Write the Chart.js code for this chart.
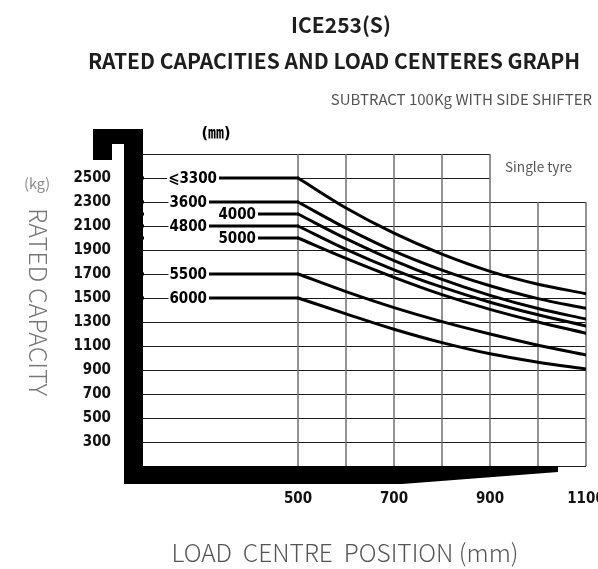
<!DOCTYPE html>
<html><head><meta charset="utf-8">
<script src="https://cdn.jsdelivr.net/npm/chart.js@4.4.0/dist/chart.umd.min.js"></script>
<style>html,body{margin:0;padding:0;background:#fff;overflow:hidden}canvas{display:block}</style>
</head><body>
<canvas id="c" width="598" height="569"></canvas>
<script>
// ---- data ----
const mastHeights = ['\u2A7D3300', '3600', '4000', '4800', '5000', '5500', '6000'];
const loadCentres = [500, 600, 700, 800, 900, 1000, 1100];
const cap3300 = [2500, 2250, 2040, 1865, 1722, 1615, 1536];
const cap3600 = [2300, 2082, 1890, 1732, 1602, 1495, 1414];
const cap4000 = [2200, 1995, 1812, 1655, 1522, 1412, 1325];
const cap4800 = [2100, 1905, 1735, 1590, 1465, 1360, 1267];
const cap5000 = [2000, 1830, 1672, 1528, 1405, 1300, 1206];
const cap5500 = [1700, 1553, 1420, 1303, 1200, 1107, 1025];
const cap6000 = [1500, 1368, 1240, 1128, 1035, 965, 908];
const yTickLabels = [300, 500, 700, 900, 1100, 1300, 1500, 1700, 1900, 2100, 2300, 2500];
const xTickLabels = [500, 700, 900, 1100];
const gridX = [500, 600, 700, 800, 900, 1000, 1100];
const gridY = [100, 300, 500, 700, 900, 1100, 1300, 1500, 1700, 1900, 2100, 2300, 2500, 2700];

const allCaps = [cap3300, cap3600, cap4000, cap4800, cap5000, cap5500, cap6000];

// ---- axis ranges / style ----
const X_MIN = 177, X_MAX = 1100, Y_MIN = 100, Y_MAX = 2700;
const NOTCH_X = 900, NOTCH_Y = 2300;
const labelEndOffset = [74, 64, 113, 64, 113, 64, 64]; // px right of plot left edge
const tickFont = { family: '"DejaVu Sans Condensed","DejaVu Sans",sans-serif', weight: 'bold', size: 15 };
const CJK = '"Noto Sans CJK SC","Noto Sans",sans-serif';

const datasets = [];
allCaps.forEach((cap, i) => {
  datasets.push({
    label: mastHeights[i] + ' flat',
    data: [{ x: X_MIN, y: cap[0] }, { x: loadCentres[0], y: cap[0] }],
    borderColor: '#000', borderWidth: 3, pointRadius: 0, tension: 0, borderCapStyle: 'round'
  });
  datasets.push({
    label: mastHeights[i],
    data: loadCentres.map((x, j) => ({ x, y: cap[j] })),
    borderColor: '#000', borderWidth: 3, pointRadius: 0,
    cubicInterpolationMode: 'monotone', borderCapStyle: 'round'
  });
});

const decor = {
  id: 'decor',
  beforeDatasetsDraw(chart) {
    const { ctx, chartArea: ca, scales: { x: xs, y: ys } } = chart;
    ctx.save();
    ctx.strokeStyle = '#1a1a1a'; ctx.lineWidth = 1;
    gridY.forEach(v => {
      const y = Math.round(ys.getPixelForValue(v)) + 0.5;
      const xe = xs.getPixelForValue(v > NOTCH_Y ? NOTCH_X : X_MAX);
      ctx.beginPath(); ctx.moveTo(ca.left, y); ctx.lineTo(xe, y); ctx.stroke();
    });
    ctx.strokeStyle = '#707070'; ctx.lineWidth = 1.5;
    gridX.forEach(v => {
      const x = xs.getPixelForValue(v);
      const yt = ys.getPixelForValue(v > NOTCH_X ? NOTCH_Y : Y_MAX);
      ctx.beginPath(); ctx.moveTo(x, yt); ctx.lineTo(x, ca.bottom); ctx.stroke();
    });
    ctx.restore();
  },
  afterDatasetsDraw(chart) {
    const { ctx, chartArea: ca, scales: { x: xs, y: ys } } = chart;
    ctx.save();
    ctx.font = 'bold 15px "DejaVu Sans Condensed","DejaVu Sans",sans-serif';
    ctx.textAlign = 'right'; ctx.textBaseline = 'middle';
    allCaps.forEach((cap, i) => {
      const y = ys.getPixelForValue(cap[0]);
      const xe = ca.left + labelEndOffset[i];
      const w = ctx.measureText(mastHeights[i]).width;
      ctx.fillStyle = '#fff';
      ctx.fillRect(ca.left + 1, y - 4, xe + 2 - ca.left - 1, 8);
      if (gridY.includes(cap[0])) {
        const yy = Math.round(y) + 0.5;
        ctx.strokeStyle = '#1a1a1a'; ctx.lineWidth = 1;
        ctx.beginPath(); ctx.moveTo(ca.left, yy); ctx.lineTo(xe - w - 1, yy); ctx.stroke();
      }
      ctx.fillStyle = '#000';
      ctx.fillText(mastHeights[i], xe, y + 1);
    });
    ctx.fillStyle = '#000';
    ctx.beginPath();
    ctx.moveTo(ca.left - 50, ca.top - 25);
    ctx.lineTo(ca.left, ca.top - 25);
    ctx.lineTo(ca.left, ca.bottom);
    ctx.lineTo(ca.right - 28, ca.bottom);
    ctx.lineTo(ca.right - 28, ca.bottom + 6);
    ctx.lineTo(ca.left + 259, ca.bottom + 18);
    ctx.lineTo(ca.left - 19, ca.bottom + 18);
    ctx.lineTo(ca.left - 19, ca.top - 10);
    ctx.lineTo(ca.left - 31, ca.top - 10);
    ctx.lineTo(ca.left - 31, ca.top + 6);
    ctx.lineTo(ca.left - 50, ca.top + 6);
    ctx.closePath();
    ctx.fill();
    ctx.restore();
  },
  afterDraw(chart) {
    const { ctx } = chart;
    ctx.save();
    ctx.textBaseline = 'middle';
    ctx.fillStyle = '#1e1e1e';
    ctx.textAlign = 'center';
    ctx.font = 'bold 21px ' + CJK;
    ctx.fillText('ICE253(S)', 341, 25);
    ctx.fillText('RATED CAPACITIES AND LOAD CENTERES GRAPH', 334, 61);
    ctx.fillStyle = '#555';
    ctx.textAlign = 'right';
    ctx.font = '15px ' + CJK;
    ctx.fillText('SUBTRACT 100Kg WITH SIDE SHIFTER', 592, 99);
    ctx.textAlign = 'left';
    ctx.font = '13.6px ' + CJK;
    ctx.fillText('Single tyre', 505, 167);
    ctx.fillStyle = '#8a8a8a';
    ctx.font = '14.5px ' + CJK;
    ctx.fillText('(kg)', 24, 183);
    ctx.fillStyle = '#000';
    ctx.textAlign = 'center';
    ctx.font = 'bold 16px "DejaVu Sans Condensed",' + CJK;
    ctx.fillText('(\u339C)', 216, 134);
    ctx.fillStyle = '#777';
    ctx.font = '300 25px ' + CJK;
    ctx.save();
    ctx.translate(38, 302);
    ctx.rotate(Math.PI / 2);
    ctx.fillText('RATED CAPACITY', 0, 0);
    ctx.restore();
    ctx.fillStyle = '#555';
    ctx.font = '300 24.5px ' + CJK;
    ctx.fillText('LOAD  CENTRE  POSITION (mm)', 345, 553);
    ctx.restore();
  }
};

new Chart(document.getElementById('c'), {
  type: 'line',
  data: { datasets },
  options: {
    responsive: false, animation: false, devicePixelRatio: 1,
    layout: { padding: { left: 53, right: 12, top: 154, bottom: 43 } },
    plugins: { legend: { display: false }, tooltip: { enabled: false }, title: { display: false } },
    scales: {
      x: {
        type: 'linear', position: 'bottom', min: X_MIN, max: X_MAX,
        grid: { display: false, drawTicks: false }, border: { display: false },
        afterBuildTicks: s => { s.ticks = xTickLabels.map(v => ({ value: v })); },
        afterFit: s => { s.height = 60; s.paddingLeft = 0; s.paddingRight = 0; },
        ticks: { color: '#111', font: tickFont, padding: 24, maxRotation: 0, autoSkip: false, callback: v => String(v) }
      },
      y: {
        type: 'linear', position: 'left', min: Y_MIN, max: Y_MAX,
        grid: { display: false, drawTicks: false }, border: { display: false },
        afterBuildTicks: s => { s.ticks = yTickLabels.map(v => ({ value: v })); },
        afterFit: s => { s.width = 90; s.paddingTop = 0; s.paddingBottom = 0; },
        ticks: { color: '#111', font: tickFont, padding: 32, autoSkip: false, callback: v => String(v) }
      }
    }
  },
  plugins: [decor]
});
</script>
</body></html>
